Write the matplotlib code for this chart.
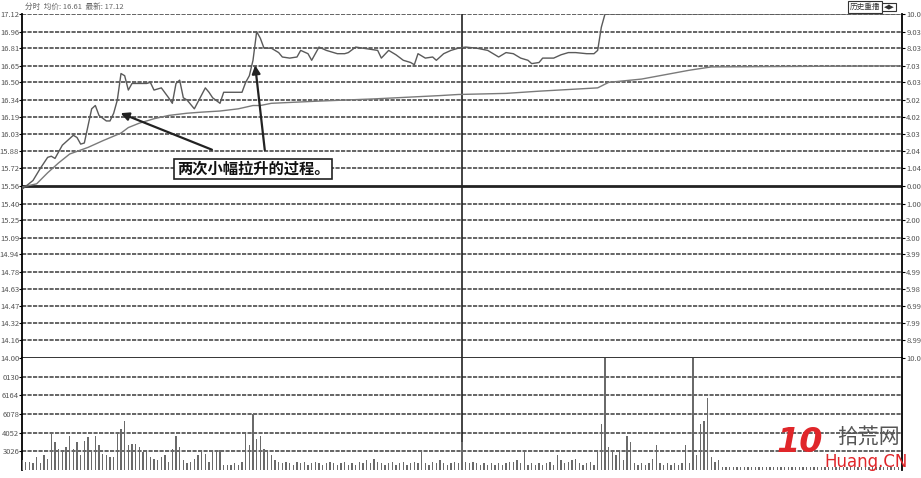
import matplotlib
matplotlib.use("Agg")
import matplotlib.pyplot as plt
import numpy as np

plt.rcParams['font.family'] = ['Noto Sans CJK SC', 'DejaVu Sans']

# 分时价格 (分钟, 价格)
price_min = [0, 3, 5, 7, 8, 9, 11, 14, 15, 16, 17, 19, 20, 21, 23, 24, 25, 26, 27, 28, 29, 30,
             34, 35, 36, 38, 40, 41, 42, 43, 44, 45, 47, 50, 51, 52, 54, 55, 58, 60, 61, 62,
             63, 64, 65, 66, 68, 70, 71, 73, 75, 76, 78, 79, 81, 83, 86, 88, 89, 91, 93, 97,
             98, 100, 102, 104, 106, 107, 108, 110, 112, 113, 115, 117, 119, 121, 124, 127,
             128, 130, 132, 134, 136, 138, 139, 141, 142, 145, 147, 149, 151, 154, 156, 157,
             158, 159, 239]
price_val = [15.53, 15.61, 15.72, 15.82, 15.83, 15.81, 15.93, 16.02, 16.00, 15.94, 15.95, 16.26,
             16.29, 16.20, 16.15, 16.15, 16.22, 16.34, 16.58, 16.56, 16.43, 16.49,
             16.49, 16.50, 16.43, 16.45, 16.36, 16.31, 16.49, 16.52, 16.36, 16.34, 16.26, 16.45,
             16.41, 16.36, 16.31, 16.41, 16.41, 16.41, 16.50, 16.56,
             16.70, 16.96, 16.90, 16.81, 16.81, 16.77, 16.73, 16.72, 16.73, 16.79, 16.76, 16.70,
             16.82, 16.79, 16.76, 16.76, 16.77, 16.82, 16.81, 16.79,
             16.72, 16.79, 16.75, 16.70, 16.68, 16.66, 16.76, 16.72, 16.73, 16.70, 16.76, 16.79,
             16.81, 16.82, 16.81, 16.79,
             16.77, 16.73, 16.77, 16.76, 16.72, 16.70, 16.67, 16.68, 16.72, 16.72, 16.75, 16.77,
             16.77, 16.76, 16.76, 16.79,
             17.00, 17.12, 17.12]

# 均价线
avg_min = [0, 4, 7, 10, 13, 18, 22, 27, 29, 32, 36, 40, 45, 49, 54, 59, 63, 65, 68, 81, 96,
           114, 119, 132, 141, 157, 160, 169, 182, 188, 239]
avg_val = [15.55, 15.58, 15.68, 15.77, 15.85, 15.91, 15.97, 16.04, 16.09, 16.13, 16.17, 16.20,
           16.22, 16.23, 16.24, 16.26, 16.29, 16.29, 16.31, 16.33, 16.35,
           16.38, 16.39, 16.40, 16.42, 16.45, 16.50, 16.53, 16.61, 16.64, 16.65]

# 成交量 (每分钟)
vol_am = [1070, 890, 890, 780, 1420, 710, 1600, 1240, 3900, 3020,
          2310, 1950, 2490, 3730, 2310, 3020, 1600, 3200, 3550, 2130,
          3730, 2660, 1780, 1600, 1420, 1420, 4080, 4440, 5330, 2660,
          2840, 2840, 2490, 1950, 1950, 1420, 1240, 1070, 1420, 1600,
          890, 2310, 3730, 2490, 1070, 710, 890, 1240, 1600, 1950,
          1780, 890, 1950, 1950, 2130, 530, 530, 530, 710, 530,
          890, 3900, 2660, 6040, 3370, 3730, 2310, 2130, 1600, 1070,
          890, 710, 890, 710, 530, 890, 710, 890, 530, 710,
          890, 710, 530, 710, 890, 710, 530, 710, 890, 530,
          710, 530, 890, 710, 1070, 710, 1240, 890, 710, 530,
          710, 890, 530, 710, 890, 530, 710, 890, 710, 1950,
          710, 530, 890, 710, 1070, 710, 530, 710, 890, 710]
vol_pm = [3020, 890, 710, 890, 710, 530, 710, 530, 710, 530,
          710, 530, 710, 890, 890, 1070, 710, 1950, 530, 710,
          530, 710, 530, 710, 890, 530, 1600, 1070, 710, 890,
          1070, 1240, 710, 530, 710, 890, 530, 2130, 4970, 13000,
          2490, 2130, 1600, 1950, 1070, 3730, 3020, 710, 530, 710,
          530, 710, 1240, 2660, 710, 530, 710, 530, 710, 530,
          710, 2660, 710, 13000, 1600, 4970, 5330, 7810, 1420, 890,
          1070, 360, 280, 360, 280, 360, 280, 360, 280, 360,
          280, 360, 280, 360, 280, 360, 280, 360, 280, 360,
          360, 280, 360, 280, 360, 280, 360, 280, 360, 280,
          360, 280, 360, 280, 360, 280, 360, 280, 360, 280,
          360, 280, 360, 280, 360, 280, 360, 280, 360, 280]

price_ticks = [14.00, 14.16, 14.32, 14.47, 14.63, 14.78, 14.94, 15.09, 15.25, 15.40, 15.56,
               15.72, 15.88, 16.03, 16.19, 16.34, 16.50, 16.65, 16.81, 16.96, 17.12]
pct_labels = ['10.0', '8.99', '7.99', '6.99', '5.98', '4.99', '3.99', '3.00', '2.00', '1.00',
              '0.00', '1.04', '2.04', '3.03', '4.02', '5.02', '6.03', '7.03', '8.03', '9.03',
              '10.0']
vol_ticks = [2026, 4052, 6078, 8104, 10130]
vol_labels = ['3026', '4052', '6078', '6164', '0130']

W, H = 921, 478
fig = plt.figure(figsize=(W / 100, H / 100), dpi=100)
ax = fig.add_axes([22 / W, (H - 358) / H, 880 / W, 344 / H])
axv = fig.add_axes([22 / W, (H - 470) / H, 880 / W, 112 / H], sharex=ax)

grid_c = '#4a4a4a'
for t in price_ticks:
    thick = t in (15.56, 14.00)
    ax.axhline(t, color='#222' if thick else grid_c, lw=2.0 if thick else 1.2,
               ls='-' if thick else (0, (2.5, 0.8)), zorder=1)
ax.plot(avg_min, avg_val, color='#7a7a7a', lw=1.0, zorder=3)
ax.plot(price_min, price_val, color='#5a5a5a', lw=1.0, zorder=4)
ax.axvline(120, color='#222', lw=1.2, zorder=2)
ax.set_xlim(0, 240)
ax.set_ylim(14.00, 17.12)
ax.set_yticks(price_ticks)
ax.set_yticklabels(['%.2f' % t for t in price_ticks])
ax.tick_params(axis='y', length=2, pad=0, labelsize=5.5, labelcolor='#555')
ax.tick_params(axis='x', bottom=False, labelbottom=False)
for s in ('top', 'bottom'):
    ax.spines[s].set_visible(False)
ax.spines['left'].set_linewidth(1.3)
ax.spines['right'].set_linewidth(1.3)

axr = ax.twinx()
axr.set_ylim(14.00, 17.12)
axr.set_yticks(price_ticks)
axr.set_yticklabels(pct_labels)
axr.tick_params(axis='y', length=2, pad=1, labelsize=5.5, labelcolor='#555')
for s in ('top', 'bottom', 'left', 'right'):
    axr.spines[s].set_visible(False)

x_am = np.arange(len(vol_am))
x_pm = np.arange(len(vol_pm)) + 120
axv.bar(x_am, vol_am, width=0.35, color='#6a6a6a', zorder=3)
axv.bar(x_pm, vol_pm, width=0.35, color='#6a6a6a', zorder=3)
for t in vol_ticks:
    axv.axhline(t, color=grid_c, lw=1.2, ls=(0, (2.5, 0.8)), zorder=1)
axv.axvline(120, color='#222', lw=1.2, zorder=2)
axv.set_ylim(0, 12150)
axv.set_yticks(vol_ticks)
axv.set_yticklabels(vol_labels)
axv.tick_params(axis='y', length=2, pad=0, labelsize=5.5, labelcolor='#555')
axv.tick_params(axis='x', bottom=False, labelbottom=False)
axv.spines['top'].set_visible(False)
axv.spines['bottom'].set_visible(False)
axv.spines['left'].set_linewidth(1.3)
axv.spines['right'].set_linewidth(1.3)

# 注释
ax.annotate('', xy=(26.2, 16.23), xytext=(52.5, 15.88),
            arrowprops=dict(arrowstyle='-|>', color='#222', lw=1.6, mutation_scale=12), zorder=6)
ax.annotate('', xy=(63.5, 16.68), xytext=(66.3, 15.86),
            arrowprops=dict(arrowstyle='-|>', color='#222', lw=1.6, mutation_scale=12), zorder=6)
ax.text(63, 15.715, '两次小幅拉升的过程。', fontsize=11, fontweight='bold', color='#111',
        ha='center', va='center', zorder=7,
        bbox=dict(boxstyle='square,pad=0.15', facecolor='white', edgecolor='#222', lw=1.2))

fig.text(25 / W, 1 - 7 / H, '分时  均价: 16.61  最新: 17.12', fontsize=5.5, color='#666',
         ha='left', va='center')
fig.text(865 / W, 1 - 7 / H, '历史重播', fontsize=5.5, color='#333', ha='center', va='center',
         bbox=dict(boxstyle='square,pad=0.2', facecolor='white', edgecolor='#333', lw=0.8))
fig.text(889 / W, 1 - 7 / H, '◀▶', fontsize=5, color='#333', ha='center', va='center',
         family=['DejaVu Sans'],
         bbox=dict(boxstyle='square,pad=0.2', facecolor='white', edgecolor='#333', lw=0.8))

# 水印
fig.text(800 / W, 1 - 443 / H, '10', fontsize=24, fontweight='bold', color='#e0262a',
         ha='center', va='center', family=['DejaVu Sans'], style='italic')
fig.text(868 / W, 1 - 437 / H, '拾荒网', fontsize=15, color='#555', ha='center', va='center')
fig.text(866 / W, 1 - 462 / H, 'Huang.CN', fontsize=12, color='#e0262a', ha='center',
         va='center', family=['DejaVu Sans'])

fig.savefig('out.png', dpi=100, facecolor='white')
